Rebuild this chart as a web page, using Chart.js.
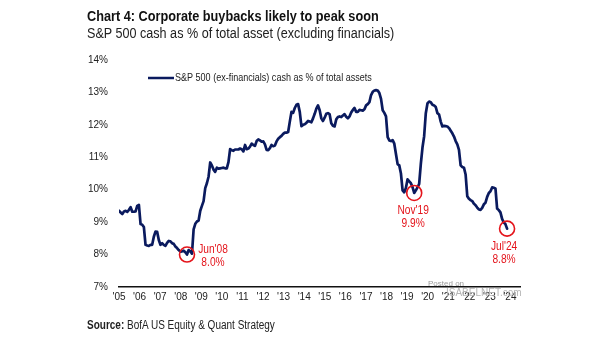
<!DOCTYPE html>
<html>
<head>
<meta charset="utf-8">
<script src="https://cdn.jsdelivr.net/npm/chart.js@4.4.1/dist/chart.umd.min.js"></script>
<style>
  body { margin: 0; background: #fff; }
  #wrap { position: relative; width: 605px; height: 341px; overflow: hidden; font-family: "Liberation Sans", Arial, sans-serif; }
  #chart { position: absolute; left: 0; top: 0; }
  .txt { position: absolute; white-space: nowrap; color: #111; transform-origin: 0 50%; }
  #title { left: 87px; top: 7px; font-size: 15.5px; font-weight: bold; transform: scaleX(0.82); }
  #subtitle { left: 87px; top: 25px; font-size: 14px; color: #222; transform: scaleX(0.9); }
  #source { left: 87px; top: 318px; font-size: 12.5px; color: #222; transform: scaleX(0.8); }
  #posted { left: 428px; top: 279px; font-size: 8px; color: #9a9a9a; }
  #site { left: 446px; top: 287px; font-size: 10px; color: #b5b5b5; }
</style>
</head>
<body>
<div id="wrap">
  <canvas id="chart" width="605" height="341"></canvas>
  <div class="txt" id="title">Chart 4: Corporate buybacks likely to peak soon</div>
  <div class="txt" id="subtitle">S&amp;P 500 cash as % of total asset (excluding financials)</div>
  <div class="txt" id="source"><b>Source:</b> BofA US Equity &amp; Quant Strategy</div>
  <div class="txt" id="posted">Posted on</div>
  <div class="txt" id="site">ISABELNET.com</div>
</div>
<script>
// monthly series, Jan 2005 onwards (% of total assets)
const startYear = 2005;
const cashPct = [
    // 2005
    9.35, 9.30, 9.25, 9.33, 9.35, 9.32, 9.38, 9.46, 9.32, 9.32, 9.33, 9.50,
    // 2006
    9.53, 8.94, 8.92, 8.85, 8.30, 8.28, 8.27, 8.30, 8.30, 8.55, 8.71, 8.70,
    // 2007
    8.45, 8.30, 8.35, 8.30, 8.27, 8.36, 8.42, 8.41, 8.35, 8.33, 8.25, 8.20,
    // 2008
    8.14, 8.09, 8.10, 8.12, 8.07, 8.00, 8.14, 8.10, 8.03, 8.78, 8.95, 9.02,
    // 2009
    9.05, 9.35, 9.50, 9.65, 10.05, 10.20, 10.40, 10.84, 10.75, 10.62, 10.55, 10.68,
    // 2010
    10.65, 10.66, 10.67, 10.68, 10.66, 10.66, 10.85, 11.25, 11.22, 11.20, 11.24, 11.24,
    // 2011
    11.24, 11.27, 11.25, 11.18, 11.38, 11.25, 11.27, 11.33, 11.42, 11.38, 11.35, 11.50,
    // 2012
    11.55, 11.52, 11.48, 11.49, 11.40, 11.23, 11.22, 11.28, 11.38, 11.34, 11.36, 11.49,
    // 2013
    11.57, 11.62, 11.66, 11.72, 11.76, 11.76, 11.78, 12.10, 12.40, 12.37, 12.52, 12.62,
    // 2014
    12.64, 12.40, 11.96, 12.00, 12.02, 12.06, 12.12, 12.10, 12.08, 12.20, 12.34, 12.50,
    // 2015
    12.60, 12.45, 12.20, 12.12, 12.22, 12.34, 12.36, 12.33, 12.05, 11.97, 11.95, 12.17,
    // 2016
    12.24, 12.26, 12.24, 12.29, 12.33, 12.25, 12.20, 12.26, 12.38, 12.46, 12.52, 12.40,
    // 2017
    12.40, 12.46, 12.45, 12.44, 12.48, 12.60, 12.64, 12.70, 12.92, 13.02, 13.06, 13.07,
    // 2018
    13.06, 12.98, 12.80, 12.45, 12.37, 12.26, 11.62, 11.52, 11.50, 11.53, 11.42, 11.10,
    // 2019
    10.79, 10.75, 10.50, 9.98, 9.92, 10.05, 10.32, 10.26, 10.20, 10.08, 9.90, 9.98,
    // 2020
    10.07, 10.18, 10.80, 11.30, 11.65, 12.36, 12.66, 12.72, 12.70, 12.62, 12.60, 12.55,
    // 2021
    12.36, 12.32, 12.10, 11.95, 11.97, 11.96, 11.95, 11.90, 11.82, 11.74, 11.64, 11.50,
    // 2022
    11.40, 11.23, 10.75, 10.70, 10.68, 10.47, 9.80, 9.72, 9.68, 9.65, 9.57, 9.52,
    // 2023
    9.45, 9.39, 9.38, 9.44, 9.55, 9.60, 9.78, 9.90, 9.95, 10.07, 10.06, 10.04,
    // 2024
    9.42, 9.37, 9.30, 9.10, 8.99, 8.94, 8.80
];

const yearLabels = ["'05", "'06", "'07", "'08", "'09", "'10", "'11", "'12", "'13", "'14",
    "'15", "'16", "'17", "'18", "'19", "'20", "'21", "'22", "'23", "'24"];
const yTicks = [7, 8, 9, 10, 11, 12, 13, 14];

// circled points: month index into cashPct + caption
const callouts = [
    { idx: 41, name: "Jun'08", dx: 26, dy: -5 },
    { idx: 178, name: "Nov'19", dx: -1, dy: 18 },
    { idx: 234, name: "Jul'24", dx: -3, dy: 18 }
];

const navy = '#0a1a5e';
const red = '#e4141b';
const labelStep = 1.034; // spacing of the year labels along the axis
const fontFamily = '"Liberation Sans", Arial, sans-serif';

// narrow text: draw with a horizontal squeeze
function narrowText(ctx, text, x, y, squeeze) {
    ctx.save();
    ctx.translate(x, y);
    ctx.scale(squeeze, 1);
    ctx.fillText(text, 0, 0);
    ctx.restore();
}

const calloutPlugin = {
    id: 'callouts',
    afterDatasetsDraw(chart) {
        const ctx = chart.ctx;
        const xs = chart.scales.x;
        const ys = chart.scales.y;
        ctx.save();
        callouts.forEach(c => {
            const v = cashPct[c.idx];
            const px = xs.getPixelForValue(startYear + c.idx / 12);
            const py = ys.getPixelForValue(v);
            ctx.strokeStyle = red;
            ctx.lineWidth = 1.6;
            ctx.beginPath();
            ctx.arc(px, py, 7.5, 0, Math.PI * 2);
            ctx.stroke();

            ctx.fillStyle = red;
            ctx.font = '12px ' + fontFamily;
            ctx.textAlign = 'center';
            ctx.textBaseline = 'middle';
            narrowText(ctx, c.name, px + c.dx, py + c.dy, 0.85);
            narrowText(ctx, v.toFixed(1) + '%', px + c.dx, py + c.dy + 13, 0.85);
        });

        // legend inside the plot
        const lx = chart.chartArea.left + 29;
        const ly = chart.chartArea.top + 18;
        ctx.strokeStyle = navy;
        ctx.lineWidth = 2.5;
        ctx.beginPath();
        ctx.moveTo(lx, ly);
        ctx.lineTo(lx + 26, ly);
        ctx.stroke();
        ctx.fillStyle = '#222';
        ctx.font = '10.5px ' + fontFamily;
        ctx.textAlign = 'left';
        ctx.textBaseline = 'middle';
        narrowText(ctx, chart.data.datasets[0].label, lx + 27, ly, 0.86);
        ctx.restore();
    }
};

document.addEventListener("DOMContentLoaded", function () {
    const canvas = document.getElementById('chart');
    const points = cashPct.map((v, i) => ({ x: startYear + i / 12, y: v }));

    new Chart(canvas.getContext('2d'), {
        type: 'line',
        data: {
            datasets: [{
                label: 'S&P 500 (ex-financials) cash as % of total assets',
                data: points,
                borderColor: navy,
                borderWidth: 2.7,
                pointRadius: 0,
                tension: 0,
                borderJoinStyle: 'round',
                borderCapStyle: 'round'
            }]
        },
        options: {
            responsive: false,
            animation: false,
            devicePixelRatio: 1,
            layout: { padding: { left: 0, right: 85, top: 60, bottom: 34 } },
            plugins: {
                legend: { display: false },
                tooltip: { enabled: false }
            },
            scales: {
                x: {
                    type: 'linear',
                    min: startYear,
                    max: 2025.15,
                    grid: { display: false, drawTicks: false },
                    border: { display: true, color: '#111', width: 1.5 },
                    afterBuildTicks: function (axis) {
                        axis.ticks = yearLabels.map((t, i) => ({ value: startYear + i * labelStep }));
                    },
                    afterFit: function (axis) {
                        axis.height = 20;
                        axis.paddingLeft = 0;
                        axis.paddingRight = 0;
                    },
                    ticks: {
                        autoSkip: false,
                        maxRotation: 0,
                        padding: 4,
                        color: '#222',
                        font: { family: fontFamily, size: 10 },
                        callback: function (value, index) {
                            return yearLabels[index];
                        }
                    }
                },
                y: {
                    min: yTicks[0],
                    max: yTicks[yTicks.length - 1],
                    grid: { display: false, drawTicks: false },
                    border: { display: false },
                    afterBuildTicks: function (axis) {
                        axis.ticks = yTicks.map(v => ({ value: v }));
                    },
                    afterFit: function (axis) {
                        axis.width = 119;
                        axis.paddingTop = 0;
                        axis.paddingBottom = 0;
                    },
                    ticks: {
                        padding: 11,
                        color: '#222',
                        font: { family: fontFamily, size: 10 },
                        callback: function (value) {
                            return value + '%';
                        }
                    }
                }
            }
        },
        plugins: [calloutPlugin]
    });
});
</script>
</body>
</html>
